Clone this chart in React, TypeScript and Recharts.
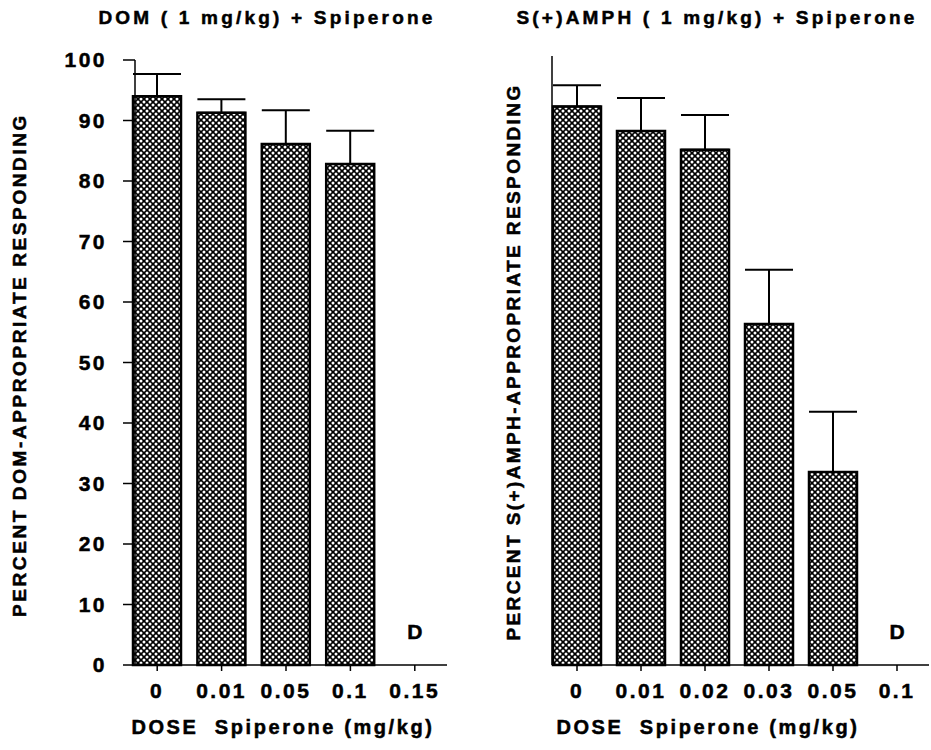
import React from 'react';
import { BarChart, Bar, XAxis, YAxis, ErrorBar, ReferenceDot } from 'recharts';

// DOM (1 mg/kg) + Spiperone
const domDoses = ['0', '0.01', '0.05', '0.1', '0.15'];
const domMeans = [94.0, 91.3, 86.1, 82.8, 0];
const domSem = [3.7, 2.2, 5.6, 5.5, 0];
const domNotes = ['', '', '', '', 'D'];
const domTicks = [0, 10, 20, 30, 40, 50, 60, 70, 80, 90, 100];

// S(+)AMPH (1 mg/kg) + Spiperone
const amphDoses = ['0', '0.01', '0.02', '0.03', '0.05', '0.1'];
const amphMeans = [91.7, 87.7, 84.6, 56.0, 31.7, 0];
const amphSem = [3.5, 5.4, 5.7, 8.9, 9.9, 0];
const amphNotes = ['', '', '', '', '', 'D'];
const amphTicks = [0, 20, 40, 60, 80, 100];

const build = (doses: string[], means: number[], sem: number[], notes: string[]) =>
  doses.map((d, i) => ({
    dose: d,
    value: means[i],
    err: [0, sem[i]],
    note: notes[i],
  }));

const domData = build(domDoses, domMeans, domSem, domNotes);
const amphData = build(amphDoses, amphMeans, amphSem, amphNotes);

const FONT = '"Liberation Sans", Arial, sans-serif';
const tickStyle = {
  fill: '#000',
  stroke: '#000',
  strokeWidth: 0.5,
  fontSize: 21,
  fontWeight: 700,
  fontFamily: FONT,
  letterSpacing: 2.5,
};
const NOTE_Y = 5.5;

const textBase: React.CSSProperties = {
  position: 'absolute',
  fontFamily: FONT,
  fontWeight: 700,
  color: '#000',
  whiteSpace: 'nowrap',
  lineHeight: 1,
  WebkitTextStroke: '0.5px #000',
};

const Hatch = ({ id }: { id: string }) => (
  <defs>
    <pattern id={id} width="6" height="6" patternUnits="userSpaceOnUse">
      <rect width="6" height="6" fill="#000" />
      <circle cx="0" cy="0" r="1.5" fill="#fff" />
      <circle cx="6" cy="0" r="1.5" fill="#fff" />
      <circle cx="0" cy="6" r="1.5" fill="#fff" />
      <circle cx="6" cy="6" r="1.5" fill="#fff" />
      <circle cx="3" cy="3" r="1.5" fill="#fff" />
    </pattern>
  </defs>
);

const notes = (data: { dose: string; note: string }[]) =>
  data
    .filter((d) => d.note)
    .map((d) => (
      <ReferenceDot
        key={d.dose}
        x={d.dose}
        y={NOTE_Y}
        r={0}
        label={{ value: d.note, position: 'center', ...tickStyle, letterSpacing: 0 }}
      />
    ));

export default function App() {
  return (
    <div style={{ position: 'absolute', left: 0, top: 0, width: 931, height: 750, background: '#fff' }}>
      <div style={{ ...textBase, left: 267, top: 8, fontSize: 19, letterSpacing: 3.2, transform: 'translateX(-50%)' }}>
        DOM ( 1 mg/kg) + Spiperone
      </div>
      <div style={{ ...textBase, left: 717, top: 8, fontSize: 19, letterSpacing: 3.2, transform: 'translateX(-50%)' }}>
        S(+)AMPH ( 1 mg/kg) + Spiperone
      </div>

      <div style={{ position: 'absolute', left: 0, top: 0 }}>
        <BarChart width={470} height={750} data={domData} margin={{ top: 60, right: 23, left: 75, bottom: 45 }}>
          <Hatch id="hatchL" />
          <XAxis
            dataKey="dose"
            padding={{ left: -10, right: 0 }}
            axisLine={{ stroke: '#000', strokeWidth: 1.5 }}
            tickLine={{ stroke: '#000', strokeWidth: 1.5 }}
            tickSize={6}
            tickMargin={12}
            height={40}
            tick={tickStyle}
            interval={0}
          />
          <YAxis
            domain={[0, 100]}
            ticks={domTicks}
            width={60}
            axisLine={{ stroke: '#000', strokeWidth: 1.5 }}
            tickLine={{ stroke: '#000', strokeWidth: 1.5 }}
            tickSize={12}
            tickMargin={16}
            tick={tickStyle}
          />
          <Bar dataKey="value" fill="url(#hatchL)" stroke="#000" strokeWidth={2.5} barSize={48} isAnimationActive={false}>
            <ErrorBar dataKey="err" width={24} stroke="#000" strokeWidth={2} direction="y" />
          </Bar>
          {notes(domData)}
        </BarChart>
      </div>

      <div style={{ position: 'absolute', left: 470, top: 0 }}>
        <BarChart width={461} height={750} data={amphData} margin={{ top: 56, right: 2, left: 22, bottom: 45 }}>
          <Hatch id="hatchR" />
          <XAxis
            dataKey="dose"
            padding={{ left: -7, right: 0 }}
            axisLine={{ stroke: '#000', strokeWidth: 1.5 }}
            tickLine={{ stroke: '#000', strokeWidth: 1.5 }}
            tickSize={6}
            tickMargin={12}
            height={40}
            tick={tickStyle}
            interval={0}
          />
          <YAxis
            domain={[0, 100]}
            ticks={amphTicks}
            width={60}
            axisLine={{ stroke: '#000', strokeWidth: 1.5 }}
            tickLine={{ stroke: '#000', strokeWidth: 1.5 }}
            tickSize={8}
            tick={false}
          />
          <Bar dataKey="value" fill="url(#hatchR)" stroke="#000" strokeWidth={2.5} barSize={48} isAnimationActive={false}>
            <ErrorBar dataKey="err" width={24} stroke="#000" strokeWidth={2} direction="y" />
          </Bar>
          {notes(amphData)}
        </BarChart>
      </div>

      <div style={{ ...textBase, left: 19, top: 365, fontSize: 19, letterSpacing: 2.6, transform: 'translate(-50%, -50%) rotate(-90deg)' }}>
        PERCENT DOM-APPROPRIATE RESPONDING
      </div>
      <div style={{ ...textBase, left: 513, top: 362, fontSize: 19, letterSpacing: 2.4, transform: 'translate(-50%, -50%) rotate(-90deg)' }}>
        PERCENT S(+)AMPH-APPROPRIATE RESPONDING
      </div>

      <div style={{ ...textBase, left: 283, top: 717, fontSize: 20, letterSpacing: 2.6, transform: 'translateX(-50%)' }}>
        DOSE&nbsp; Spiperone (mg/kg)
      </div>
      <div style={{ ...textBase, left: 708, top: 717, fontSize: 20, letterSpacing: 2.6, transform: 'translateX(-50%)' }}>
        DOSE&nbsp; Spiperone (mg/kg)
      </div>
    </div>
  );
}
